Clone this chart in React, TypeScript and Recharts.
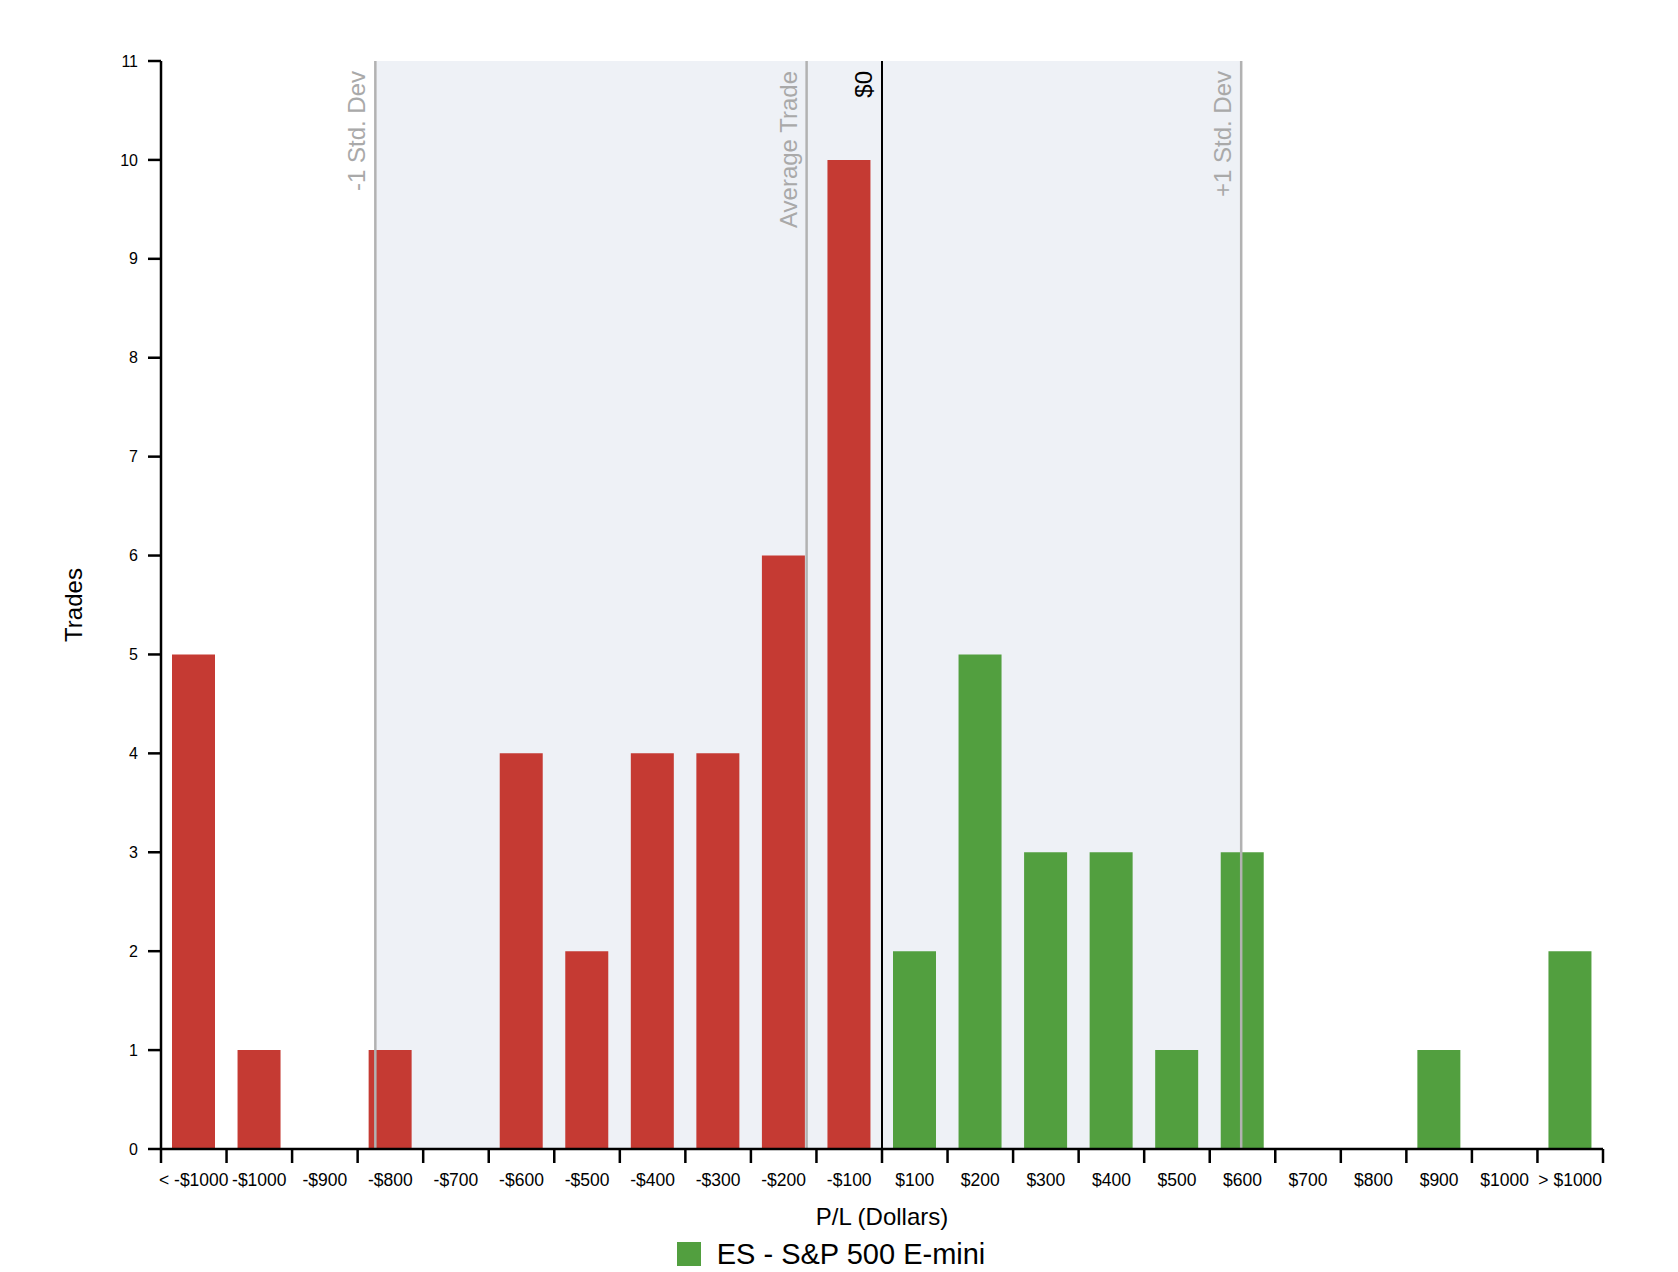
import React from 'react';
import {
  BarChart,
  Bar,
  XAxis,
  YAxis,
  Cell,
  ReferenceLine,
  ReferenceArea,
  Legend,
} from 'recharts';

// ---- data ----
const categories = [
  '< -$1000', '-$1000', '-$900', '-$800', '-$700', '-$600', '-$500', '-$400', '-$300', '-$200', '-$100',
  '$100', '$200', '$300', '$400', '$500', '$600', '$700', '$800', '$900', '$1000', '> $1000',
];
// centre of each bin on the dollar scale
const binCenters = [
  -1050, -950, -850, -750, -650, -550, -450, -350, -250, -150, -50,
  50, 150, 250, 350, 450, 550, 650, 750, 850, 950, 1050,
];
const trades = [5, 1, 0, 1, 0, 4, 2, 4, 4, 6, 10, 2, 5, 3, 3, 1, 3, 0, 0, 1, 0, 2];
// bin boundaries (tick marks)
const binEdges = [
  -1100, -1000, -900, -800, -700, -600, -500, -400, -300, -200, -100, 0,
  100, 200, 300, 400, 500, 600, 700, 800, 900, 1000, 1100,
];
const yTicks = [0, 1, 2, 3, 4, 5, 6, 7, 8, 9, 10, 11];
const dollarDomain = [-1100, 1100];
const minusOneStdDev = -773;
const averageTrade = -115;
const zeroDollars = 0;
const plusOneStdDev = 548;
const seriesName = 'ES - S&P 500 E-mini';
const xTitle = 'P/L (Dollars)';
const yTitle = 'Trades';

const data = categories.map((c, i) => ({ bin: c, pl: binCenters[i], trades: trades[i] }));

// ---- styles ----
const W = 1678;
const H = 1272;
const MARGIN = { top: 61, right: 75, bottom: 0, left: 0 };
const Y_AXIS_W = 161;
const X_AXIS_H = 123;
const RED = '#C53A33';
const GREEN = '#529F3F';
const SHADE = '#EEF1F6';
const GREY_LINE = '#B2B2B2';
const GREY_TEXT = '#A9A9A9';
const FONT = '"Liberation Sans", Arial, Helvetica, sans-serif';
const PLOT_W = W - MARGIN.right - MARGIN.left - Y_AXIS_W;
const HALF_BAND = PLOT_W / categories.length / 2;

const XTick = (props: any) => {
  const { x, y, payload } = props;
  const idx = binEdges.indexOf(payload.value);
  const label = idx >= 0 && idx < categories.length ? categories[idx] : null;
  return (
    <g>
      <line x1={x} x2={x} y1={y} y2={y + 14} stroke="#000" strokeWidth={2.5} />
      {label && (
        <text x={x + HALF_BAND} y={y + 36.5} textAnchor="middle" fontSize={17.5} fill="#000" fontFamily={FONT}>
          {label}
        </text>
      )}
    </g>
  );
};

const makeRefLabel = (text: string, color: string) => (props: any) => {
  const vb = props.viewBox || {};
  const x = (vb.x || 0) - 10;
  const y = (vb.y || 0) + 10;
  return (
    <text
      x={x}
      y={y}
      transform={`rotate(-90 ${x} ${y})`}
      textAnchor="end"
      fontSize={24}
      fill={color}
      fontFamily={FONT}
    >
      {text}
    </text>
  );
};

const YTitle = (props: any) => {
  const vb = props.viewBox || {};
  const x = 73;
  const y = (vb.y || 0) + (vb.height || 0) / 2;
  return (
    <text
      x={x}
      y={y}
      dy={8.5}
      transform={`rotate(-90 ${x} ${y})`}
      textAnchor="middle"
      fontSize={24}
      fill="#000"
      fontFamily={FONT}
    >
      {yTitle}
    </text>
  );
};

const XTitle = (props: any) => {
  const vb = props.viewBox || {};
  const x = (vb.x || 0) + (vb.width || 0) / 2;
  return (
    <text x={x} y={1225} textAnchor="middle" fontSize={24} fill="#000" fontFamily={FONT}>
      {xTitle}
    </text>
  );
};

const LegendContent = () => (
  <div
    style={{
      display: 'flex',
      justifyContent: 'center',
      alignItems: 'center',
      height: 24,
      paddingRight: 16,
      fontFamily: FONT,
    }}
  >
    <span style={{ display: 'inline-block', width: 24, height: 24, background: GREEN, marginRight: 16 }} />
    <span style={{ fontSize: 29, lineHeight: '24px', color: '#000' }}>{seriesName}</span>
  </div>
);

export default function App() {
  return (
    <div style={{ position: 'absolute', left: 0, top: 0, width: W, height: H, background: '#fff', fontFamily: FONT }}>
      <BarChart width={W} height={H} data={data} margin={MARGIN} barSize={43}>
        <XAxis
          dataKey="pl"
          type="number"
          domain={dollarDomain}
          ticks={binEdges}
          interval={0}
          allowDataOverflow
          height={X_AXIS_H}
          tickLine={false}
          tickSize={0}
          tickMargin={0}
          axisLine={{ stroke: '#000', strokeWidth: 2.5 }}
          tick={<XTick />}
          label={<XTitle />}
        />
        <YAxis
          width={Y_AXIS_W}
          domain={[0, 11]}
          ticks={yTicks}
          interval={0}
          allowDecimals={false}
          tickSize={13}
          tickMargin={10}
          tick={{ fontSize: 16, fill: '#000', fontFamily: FONT }}
          tickLine={{ stroke: '#000', strokeWidth: 2.5 }}
          axisLine={{ stroke: '#000', strokeWidth: 2.5 }}
          label={<YTitle />}
        />
        <ReferenceArea
          x1={minusOneStdDev}
          x2={plusOneStdDev}
          fill={SHADE}
          fillOpacity={1}
          stroke="none"
        />
        <Bar dataKey="trades" name={seriesName} fill={GREEN} isAnimationActive={false}>
          {data.map((d) => (
            <Cell key={d.bin} fill={d.pl < 0 ? RED : GREEN} />
          ))}
        </Bar>
        <ReferenceLine
          x={minusOneStdDev}
          stroke={GREY_LINE}
          strokeWidth={2.5}
          label={makeRefLabel('-1 Std. Dev', GREY_TEXT)}
        />
        <ReferenceLine
          x={averageTrade}
          stroke={GREY_LINE}
          strokeWidth={2.5}
          label={makeRefLabel('Average Trade', GREY_TEXT)}
        />
        <ReferenceLine
          x={zeroDollars}
          stroke="#000"
          strokeWidth={2}
          label={makeRefLabel('$0', '#000')}
        />
        <ReferenceLine
          x={plusOneStdDev}
          stroke={GREY_LINE}
          strokeWidth={2.5}
          label={makeRefLabel('+1 Std. Dev', GREY_TEXT)}
        />
        <Legend
          verticalAlign="middle"
          align="center"
          layout="horizontal"
          wrapperStyle={{ top: 1242, left: 0, width: W, height: 24 }}
          content={() => <LegendContent />}
        />
      </BarChart>
    </div>
  );
}
